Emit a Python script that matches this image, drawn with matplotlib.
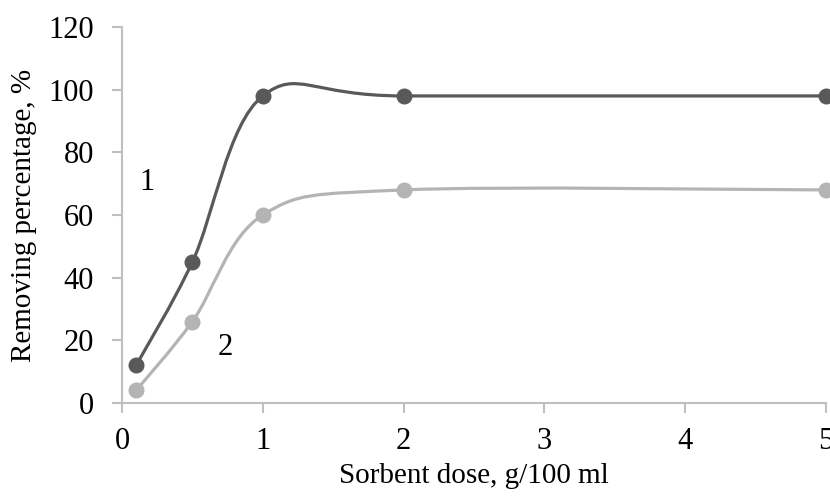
import numpy as np
import matplotlib.pyplot as plt
from matplotlib.path import Path
from matplotlib.patches import PathPatch

plt.rcParams["font.family"] = "Liberation Serif"

## data ##
dose = [0.1, 0.5, 1, 2, 5]
removal_1 = [12, 45, 98, 98, 98]
removal_2 = [4, 26, 60, 68, 68]
x_ticks = [0, 1, 2, 3, 4, 5]
y_ticks = [0, 20, 40, 60, 80, 100, 120]

col_1 = "#595959"
col_2 = "#b4b4b4"
axis_col = "#bfbfbf"


def smooth_path(x, y):
    # excel-like smoothed line (catmull-rom as cubic bezier)
    p = np.column_stack([x, y]).astype(float)
    n = len(p)
    verts = [p[0]]
    codes = [Path.MOVETO]
    for i in range(n - 1):
        p0 = p[i - 1] if i > 0 else p[i]
        p1 = p[i]
        p2 = p[i + 1]
        p3 = p[i + 2] if i + 2 < n else p[i + 1]
        c1 = p1 + (p2 - p0) / 6.0
        c2 = p2 - (p3 - p1) / 6.0
        verts += [c1, c2, p2]
        codes += [Path.CURVE4] * 3
    return Path(verts, codes)


fig = plt.figure(figsize=(8.3, 4.99), dpi=100)
ax = fig.add_axes([0.147, 0.1924, 0.848, 0.7535])

for yv, c in [(removal_2, col_2), (removal_1, col_1)]:
    patch = PathPatch(smooth_path(dose, yv), facecolor="none", edgecolor=c,
                      lw=2.3, clip_on=False, zorder=3)
    ax.add_patch(patch)
    ax.plot(dose, yv, "o", color=c, ms=10.5, clip_on=False, zorder=4)

ax.text(0.178, 70.5, "1", fontsize=22, ha="center", va="center")
ax.text(0.73, 17.6, "2", fontsize=22, ha="center", va="center")

ax.set_xlim(0, 5)
ax.set_ylim(0, 120)
ax.set_xticks(x_ticks)
ax.set_yticks(y_ticks)
ax.set_xlabel("Sorbent dose, g/100 ml", fontsize=21, labelpad=5)
ax.set_ylabel("Removing percentage, %", fontsize=21, labelpad=8)

for s in ["top", "right"]:
    ax.spines[s].set_visible(False)
for s in ["left", "bottom"]:
    ax.spines[s].set_color(axis_col)
    ax.spines[s].set_linewidth(1.5)
ax.tick_params(axis="both", colors=axis_col, length=7, width=1.5,
               labelsize=22, labelcolor="black")
ax.tick_params(axis="y", pad=13)
ax.tick_params(axis="x", pad=10)

plt.savefig("out.png", dpi=100)
